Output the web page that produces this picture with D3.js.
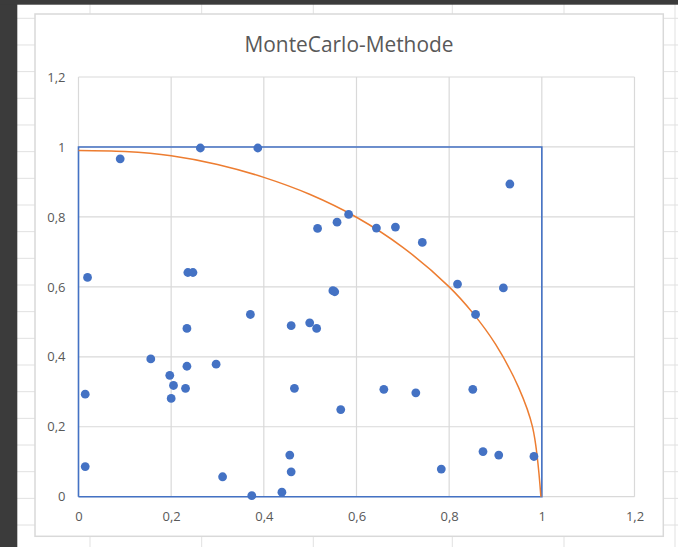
<!DOCTYPE html>
<html>
<head>
<meta charset="utf-8">
<script src="https://cdn.jsdelivr.net/npm/d3@7"></script>
<style>
  html, body { margin: 0; padding: 0; background: #ffffff; }
  svg { display: block; }
</style>
</head>
<body>
<svg id="chart" width="678" height="547"></svg>
<script>
// ---- data ----
const title = "MonteCarlo-Methode";
const pointsX = [0.263, 0.387, 0.090, 0.0195, 0.236, 0.247, 0.371, 0.234, 0.459, 0.499,
                 0.514, 0.516, 0.558, 0.549, 0.553, 0.583, 0.643, 0.684, 0.742, 0.931,
                 0.818, 0.917, 0.857, 0.156, 0.197, 0.205, 0.200, 0.231, 0.234, 0.297,
                 0.0145, 0.0145, 0.311, 0.374, 0.439, 0.456, 0.459, 0.466, 0.566, 0.659,
                 0.728, 0.851, 0.783, 0.873, 0.907, 0.983];
const pointsY = [0.997, 0.997, 0.966, 0.627, 0.641, 0.641, 0.521, 0.481, 0.489, 0.497,
                 0.481, 0.767, 0.785, 0.589, 0.586, 0.807, 0.768, 0.771, 0.727, 0.894,
                 0.608, 0.597, 0.521, 0.394, 0.347, 0.318, 0.281, 0.310, 0.373, 0.379,
                 0.293, 0.086, 0.057, 0.003, 0.013, 0.119, 0.071, 0.310, 0.249, 0.307,
                 0.297, 0.307, 0.079, 0.129, 0.119, 0.115];
const squareX = [0, 1, 1, 0, 0];
const squareY = [0, 0, 1, 1, 0];
const curveX = [0, 0.1, 0.2, 0.3, 0.4, 0.5, 0.6, 0.7, 0.8, 0.85, 0.9, 0.95, 0.98, 0.998];
const curveY = [0.99, 0.987, 0.975, 0.950, 0.913, 0.864, 0.799, 0.713, 0.600, 0.527, 0.436, 0.312, 0.199, 0];
const tickValues = [0, 0.2, 0.4, 0.6, 0.8, 1, 1.2];

// ---- layout ----
const W = 678, H = 547;
const svg = d3.select("#chart");
const fmt = d => d === 0 ? "0" : String(d).replace(".", ",");

// spreadsheet background
const bg = svg.append("g");
bg.append("rect").attr("x", 0).attr("y", 0).attr("width", W).attr("height", H).attr("fill", "#ffffff");
const colLines = [90, 201.7, 313.3, 452.3, 564, 675];
const rowStart = 18.3, rowStep = 26.67;
const rows = d3.range(rowStart, H, rowStep);
bg.selectAll("line.row").data(rows).join("line")
  .attr("x1", 17).attr("x2", W).attr("y1", d => d).attr("y2", d => d)
  .attr("stroke", "#e1e1e1").attr("stroke-width", 1);
bg.selectAll("line.col").data(colLines).join("line")
  .attr("x1", d => d).attr("x2", d => d).attr("y1", 4).attr("y2", H)
  .attr("stroke", "#e1e1e1").attr("stroke-width", 1);
// dark UI strips
bg.append("rect").attr("x", 0).attr("y", 0).attr("width", 17.3).attr("height", H).attr("fill", "#3b3b3b");
bg.append("rect").attr("x", 0).attr("y", 0).attr("width", W).attr("height", 4.7).attr("fill", "#3b3b3b");

// chart area
svg.append("rect")
  .attr("x", 35).attr("y", 14).attr("width", 628.3).attr("height", 522.3)
  .attr("fill", "#ffffff").attr("stroke", "#d9d9d9").attr("stroke-width", 1.5);

// scales
const x = d3.scaleLinear().domain([0, 1.2]).range([78.5, 634.5]);
const y = d3.scaleLinear().domain([0, 1.2]).range([496.7, 77]);

// gridlines
const grid = svg.append("g");
grid.selectAll("line.h").data(tickValues).join("line")
  .attr("x1", x(0)).attr("x2", x(1.2)).attr("y1", d => y(d)).attr("y2", d => y(d))
  .attr("stroke", "#d9d9d9").attr("stroke-width", 1.2);
grid.selectAll("line.v").data(tickValues).join("line")
  .attr("x1", d => x(d)).attr("x2", d => x(d)).attr("y1", y(0)).attr("y2", y(1.2))
  .attr("stroke", "#d9d9d9").attr("stroke-width", 1.2);

// axes (labels only)
const labelFont = "'Open Sans', 'DejaVu Sans', sans-serif";
const yAxis = svg.append("g").attr("transform", `translate(${x(0) - 8},0)`)
  .call(d3.axisLeft(y).tickValues(tickValues).tickFormat(fmt).tickSize(0).tickPadding(5));
const xAxis = svg.append("g").attr("transform", `translate(0,${y(0) + 10})`)
  .call(d3.axisBottom(x).tickValues(tickValues).tickFormat(fmt).tickSize(0).tickPadding(5));
[yAxis, xAxis].forEach(a => {
  a.select(".domain").remove();
  a.selectAll("text").attr("fill", "#595959").style("font-family", labelFont).style("font-size", "13px");
});

// square
const lineGen = d3.line().x(d => x(d[0])).y(d => y(d[1]));
svg.append("path")
  .datum(squareX.map((d, i) => [d, squareY[i]]))
  .attr("d", lineGen).attr("fill", "none")
  .attr("stroke", "#4472C4").attr("stroke-width", 1.6);

// quarter circle
const curveGen = d3.line().x(d => x(d[0])).y(d => y(d[1])).curve(d3.curveCatmullRom.alpha(0.5));
svg.append("path")
  .datum(curveX.map((d, i) => [d, curveY[i]]))
  .attr("d", curveGen).attr("fill", "none")
  .attr("stroke", "#ED7D31").attr("stroke-width", 1.5);

// points
svg.append("g").selectAll("circle").data(pointsX.map((d, i) => [d, pointsY[i]])).join("circle")
  .attr("cx", d => x(d[0])).attr("cy", d => y(d[1])).attr("r", 4.4)
  .attr("fill", "#4472C4");

// title
const t = svg.append("text")
  .attr("x", 349).attr("y", 52)
  .attr("text-anchor", "middle")
  .attr("fill", "#595959")
  .style("font-family", labelFont)
  .style("font-size", "22px")
  .text(title);
const targetW = 209;
const w0 = t.node().getComputedTextLength();
if (w0 > 0) t.style("font-size", (22 * targetW / w0).toFixed(2) + "px");
</script>
</body>
</html>
